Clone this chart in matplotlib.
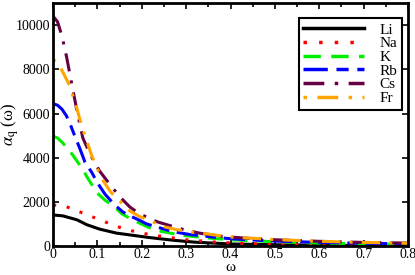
import matplotlib
matplotlib.use("Agg")
import matplotlib.pyplot as plt
from matplotlib.ticker import MultipleLocator

plt.rcParams["font.family"] = ["Liberation Serif", "DejaVu Serif"]
plt.rcParams["mathtext.fontset"] = "stix"

# values
li_w = [0, 0.022, 0.054, 0.076, 0.105, 0.143, 0.18, 0.217, 0.27, 0.32, 0.4, 0.5, 0.6, 0.7, 0.8]
li_a = [1420, 1380, 1200, 980, 780, 600, 500, 400, 280, 190, 110, 75, 55, 40, 30]

na_w = [0, 0.027, 0.049, 0.072, 0.094, 0.117, 0.139, 0.16, 0.184, 0.206, 0.23, 0.253,
        0.278, 0.3, 0.325, 0.35, 0.37, 0.4, 0.44, 0.47, 0.5, 0.6, 0.7, 0.8]
na_a = [1870, 1820, 1640, 1470, 1290, 1110, 930, 800, 670, 580, 490, 440,
        360, 300, 260, 220, 190, 160, 130, 115, 100, 80, 70, 60]

k_w = [0, 0.01, 0.022, 0.038, 0.054, 0.068, 0.076, 0.087, 0.1, 0.117, 0.139, 0.155,
       0.175, 0.195, 0.22, 0.244, 0.27, 0.3, 0.35, 0.4, 0.5, 0.6, 0.7, 0.8]
k_a = [4980, 4900, 4670, 4300, 3850, 3450, 3150, 2800, 2400, 2090, 1780, 1470,
       1250, 1050, 820, 680, 580, 480, 380, 300, 210, 150, 120, 90]

rb_w = [0, 0.01, 0.02, 0.03, 0.038, 0.049, 0.06, 0.072, 0.087, 0.099, 0.117, 0.139,
        0.157, 0.173, 0.195, 0.21, 0.247, 0.27, 0.31, 0.33, 0.37, 0.4, 0.43, 0.5,
        0.6, 0.7, 0.8]
rb_a = [6450, 6380, 6200, 5900, 5550, 4980, 4440, 3800, 3350, 2900, 2360, 1870,
        1560, 1380, 1180, 1020, 800, 670, 530, 490, 400, 350, 310, 240,
        180, 140, 110]

cs_w = [0, 0.01, 0.02, 0.03, 0.043, 0.055, 0.067, 0.085, 0.105, 0.128, 0.15, 0.173,
        0.195, 0.235, 0.28, 0.3, 0.33, 0.375, 0.45, 0.5, 0.6, 0.7, 0.8]
cs_a = [10400, 10150, 9500, 8600, 7240, 6000, 4900, 4100, 3400, 2800, 2250, 1780,
        1470, 1110, 840, 730, 600, 460, 350, 300, 230, 180, 150]

fr_w = [0, 0.01, 0.02, 0.034, 0.05, 0.065, 0.087, 0.11, 0.13, 0.155, 0.173, 0.195,
        0.217, 0.247, 0.278, 0.32, 0.35, 0.39, 0.42, 0.5, 0.6, 0.7, 0.8]
fr_a = [8450, 8300, 7950, 7400, 6500, 5400, 4100, 3050, 2450, 1950, 1600, 1350,
        1180, 900, 760, 620, 560, 440, 400, 310, 230, 180, 140]

fig = plt.figure(figsize=(4.15, 2.75), dpi=100)
ax = fig.add_axes([0.128, 0.104, 0.855, 0.885])

lw = 2.2
ax.plot(li_w, li_a, color="black", lw=lw, label="Li")
ax.plot(na_w, na_a, color="red", lw=lw, linestyle=(0, (1, 3.5)), label="Na")
ax.plot(k_w, k_a, color="#00ee00", lw=lw, linestyle=(0, (5, 3)), label="K")
ax.plot(rb_w, rb_a, color="blue", lw=lw, linestyle=(0, (7, 2.5, 3.5, 2.5)), label="Rb")
ax.plot(cs_w, cs_a, color="#660044", lw=lw, linestyle=(0, (6, 3, 1, 3)), label="Cs")
ax.plot(fr_w, fr_a, color="orange", lw=lw, linestyle=(0, (1, 3, 6, 3)), label="Fr")

ax.set_xlim(0, 0.8)
ax.set_ylim(0, 11000)
ax.xaxis.set_major_locator(MultipleLocator(0.1))
ax.xaxis.set_minor_locator(MultipleLocator(0.05))
ax.yaxis.set_major_locator(MultipleLocator(2000))
ax.xaxis.set_major_formatter(plt.FuncFormatter(lambda v, p: "%g" % round(v, 2)))
ax.tick_params(which="both", direction="in", top=True, right=True, labelsize=10,
               width=1.2)
ax.tick_params(axis="x", pad=1)
ax.tick_params(axis="y", pad=2)
ax.tick_params(which="major", length=4)
ax.tick_params(which="minor", length=3)
for s in ax.spines.values():
    s.set_linewidth(2)

ax.set_xlabel("ω", fontsize=11)
ax.xaxis.set_label_coords(0.5, -0.062)
ax.set_ylabel(r"$\alpha_{\rm q}$ (ω)", fontsize=12)
ax.yaxis.set_label_coords(-0.09, 0.5)

leg = ax.legend(loc="upper right", bbox_to_anchor=(0.992, 0.95), fontsize=11,
                fancybox=False, framealpha=1, edgecolor="black",
                handlelength=4.0, labelspacing=0.0, borderpad=0.3,
                handletextpad=1.0, borderaxespad=0.2)
leg.get_frame().set_linewidth(1.5)
for h in leg.get_lines():
    h.set_linewidth(2.5)

fig.savefig("out.png", dpi=100)
